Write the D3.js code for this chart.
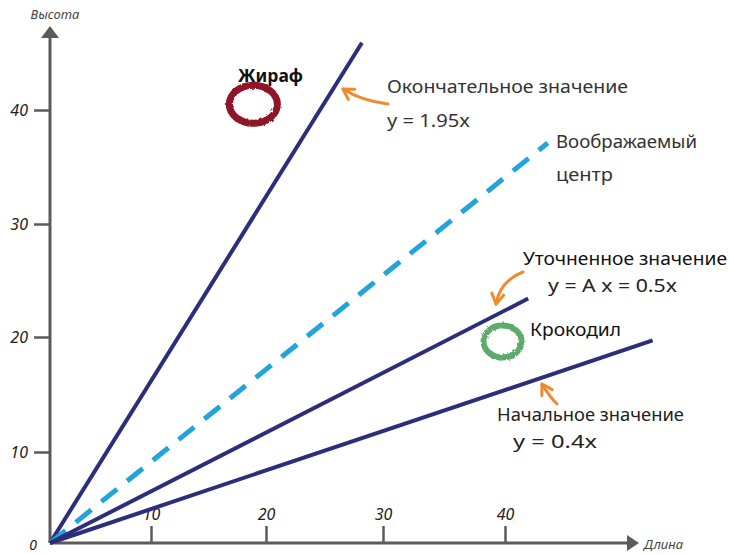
<!DOCTYPE html>
<html><head><meta charset="utf-8">
<script src="https://cdn.jsdelivr.net/npm/d3@7"></script>
<style>
body{margin:0;background:#fff;}
svg{display:block;}
text{font-family:"Noto Sans","DejaVu Sans",sans-serif;}
</style></head>
<body><svg id="c" width="729" height="554"></svg>
<script>
// ---- data ----
const xTickValues = [10, 20, 30, 40];
const yTickValues = [10, 20, 30, 40];
const xTitle = "Длина";
const yTitle = "Высота";
const lineNames = ["Окончательное", "Воображаемый центр", "Уточненное", "Начальное"];
const lineEndX = [28.2, 43.5, 41.9, 52.1];
const lineEndY = [45.9, 37.1, 23.4, 19.7];
const lineDashed = [false, true, false, false];
const animalNames = ["Жираф", "Крокодил"];
const animalX = [18.9, 39.8];
const animalY = [40.5, 19.6];

// ---- scales (hand-drawn, uneven spacing) ----
const x = d3.scaleLinear().domain([0, 10, 20, 30, 40, 55]).range([50, 151, 266, 383, 505, 688]);
const y = d3.scaleLinear().domain([0, 10, 20, 30, 40, 50]).range([543, 452, 337, 224, 110, -4]);

const svg = d3.select("#c");
const axisCol = "#5b5b5b", navy = "#2c2e7a", blue = "#22a3dc", orange = "#f08a2e";

const defs = svg.append("defs");
const f = defs.append("filter").attr("id", "rough").attr("x", "-20%").attr("y", "-20%").attr("width", "140%").attr("height", "140%");
f.append("feTurbulence").attr("type", "fractalNoise").attr("baseFrequency", 0.35).attr("numOctaves", 2).attr("result", "n");
f.append("feDisplacementMap").attr("in", "SourceGraphic").attr("in2", "n").attr("scale", 3);
defs.append("marker").attr("id", "oarrow").attr("viewBox", "-12 -8 14 16").attr("markerWidth", 14).attr("markerHeight", 16)
  .attr("markerUnits", "userSpaceOnUse").attr("orient", "auto").attr("refX", 0).attr("refY", 0)
  .append("path").attr("d", "M-10,-6 L0,0 L-10,6").attr("fill", "none").attr("stroke", orange).attr("stroke-width", 3).attr("stroke-linecap", "round").attr("stroke-linejoin", "round");

// ---- axes ----
const yAxis = svg.append("g").attr("transform", `translate(${x(0)},0)`)
  .call(d3.axisLeft(y).tickValues(yTickValues).tickSize(16).tickPadding(6));
yAxis.select(".domain").remove();
yAxis.selectAll(".tick line").attr("stroke", axisCol).attr("stroke-width", 2.5);
yAxis.selectAll(".tick text").attr("fill", "#222").attr("font-size", 16).attr("font-style", "italic");

const xAxis = svg.append("g").attr("transform", `translate(0,${y(0)})`)
  .call(d3.axisTop(x).tickValues(xTickValues).tickSize(17).tickPadding(6));
xAxis.select(".domain").remove();
xAxis.selectAll(".tick line").attr("stroke", axisCol).attr("stroke-width", 2.5);
xAxis.selectAll(".tick text").attr("fill", "#222").attr("font-size", 16).attr("font-style", "italic");

// axis lines with arrowheads
svg.append("line").attr("x1", x(0)).attr("y1", y(0)).attr("x2", x(0)).attr("y2", 34)
  .attr("stroke", axisCol).attr("stroke-width", 3);
svg.append("path").attr("d", `M${x(0)},26 L${x(0) - 9},38 L${x(0) + 9},38 Z`).attr("fill", axisCol);
svg.append("line").attr("x1", x(0)).attr("y1", y(0)).attr("x2", 630).attr("y2", y(0))
  .attr("stroke", axisCol).attr("stroke-width", 3);
svg.append("path").attr("d", `M639,${y(0)} L627,${y(0) - 8} L627,${y(0) + 8} Z`).attr("fill", axisCol);

svg.append("text").attr("x", x(0) - 17).attr("y", 550).attr("font-size", 14).attr("font-style", "italic").attr("fill", "#222").attr("text-anchor", "middle").text("0");
svg.append("text").attr("x", 55).attr("y", 19).attr("font-size", 13).attr("font-style", "italic").attr("fill", "#444").attr("text-anchor", "middle").text(yTitle);
svg.append("text").attr("x", 644).attr("y", 549).attr("font-size", 13).attr("font-style", "italic").attr("fill", "#444").text(xTitle);

// ---- lines ----
const lines = lineNames.map((n, i) => ({ name: n, x1: lineEndX[i], y1: lineEndY[i], dashed: lineDashed[i] }));
svg.append("g").selectAll("line").data(lines).join("line")
  .attr("x1", x(0)).attr("y1", y(0))
  .attr("x2", d => x(d.x1)).attr("y2", d => y(d.y1))
  .attr("stroke", d => d.dashed ? blue : navy)
  .attr("stroke-width", d => d.dashed ? 5 : 4)
  .attr("stroke-dasharray", d => d.dashed ? "20,13" : null)
  .attr("stroke-linecap", "butt");

// ---- animal circles ----
const animals = animalNames.map((n, i) => ({ name: n, x: animalX[i], y: animalY[i] }));
const circCol = ["#8e1428", "#5cab6c"];
svg.append("g").selectAll("ellipse").data(animals).join("ellipse")
  .attr("cx", d => x(d.x)).attr("cy", d => y(d.y))
  .attr("rx", (d, i) => i === 0 ? 24 : 19).attr("ry", (d, i) => i === 0 ? 19 : 16)
  .attr("fill", "none").attr("stroke", (d, i) => circCol[i]).attr("stroke-width", (d, i) => i === 0 ? 7 : 6)
  .attr("filter", "url(#rough)");

// ---- annotations ----
function label(t, xx, yy, len, opts = {}) {
  const el = svg.append("text").attr("x", xx).attr("y", yy).attr("font-size", opts.size || 18)
    .attr("fill", opts.fill || "#333").attr("font-weight", opts.weight || "normal").text(t);
  if (len) el.attr("textLength", len).attr("lengthAdjust", "spacingAndGlyphs");
  return el;
}
label(animalNames[0], 238, 82, 65, { weight: "bold", fill: "#111", size: 17 });
label(animalNames[1], 530, 336, 91, { fill: "#111", size: 18 });
label("Окончательное значение", 387, 93, 241);
label("y = 1.95x", 387, 127, 83);
label("Воображаемый", 556, 148, 141);
label("центр", 556, 181, 57);
label("Уточненное значение", 523, 265, 204, { fill: "#111" });
label("y = A x = 0.5x", 548, 292, 129, { fill: "#222" });
label("Начальное значение", 497, 421, 187, { fill: "#222" });
label("y = 0.4x", 513, 448, 84, { fill: "#222" });

// ---- orange arrows ----
const arrows = ["M388,104 Q362,101 343,89", "M523,272 Q500,281 496,304", "M557,404 Q549,396 542,384"];
svg.append("g").selectAll("path").data(arrows).join("path")
  .attr("d", d => d).attr("fill", "none").attr("stroke", orange).attr("stroke-width", 3)
  .attr("stroke-linecap", "round").attr("marker-end", "url(#oarrow)");
</script>
</body></html>
